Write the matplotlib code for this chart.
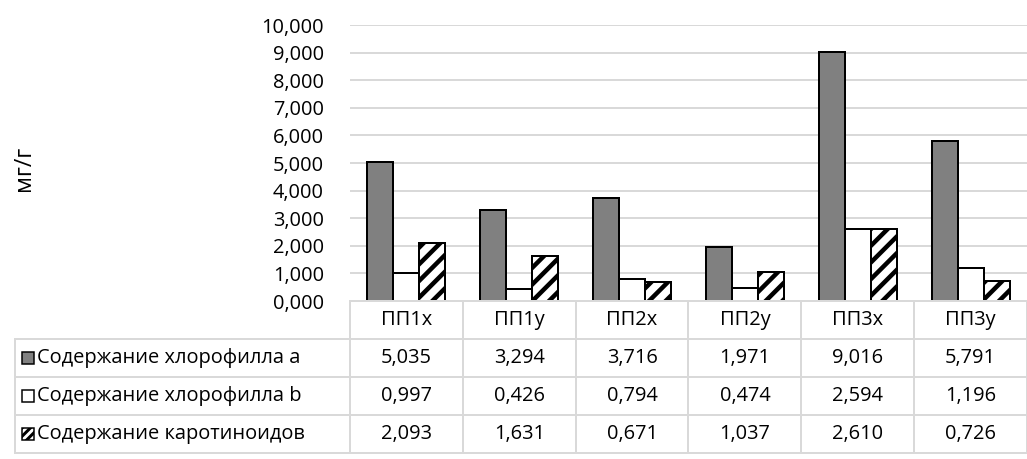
import matplotlib
matplotlib.use("Agg")
import matplotlib.pyplot as plt
from matplotlib.patches import Rectangle
import numpy as np

DPI = 100


def px(v):
    """pixel size -> points"""
    return v * 72.0 / DPI


plt.rcParams['font.family'] = ['Open Sans', 'DejaVu Sans']
plt.rcParams['hatch.linewidth'] = px(4.5)

categories = ['ПП1x', 'ПП1у', 'ПП2x', 'ПП2у', 'ПП3x', 'ПП3у']
series_names = ['Содержание хлорофилла a', 'Содержание хлорофилла b',
                'Содержание каротиноидов']
chl_a = [5.035, 3.294, 3.716, 1.971, 9.016, 5.791]
chl_b = [0.997, 0.426, 0.794, 0.474, 2.594, 1.196]
carot = [2.093, 1.631, 0.671, 1.037, 2.610, 0.726]
yticks = np.arange(0, 11, 1)

styles = [dict(facecolor='#808080', hatch=None),
          dict(facecolor='white', hatch=None),
          dict(facecolor='white', hatch='//')]

W, H = 1027, 459
FS = px(20)
grid_c = '#d9d9d9'


def fmt(v):
    return '{:.3f}'.format(v).replace('.', ',')


fig = plt.figure(figsize=(W / DPI, H / DPI), dpi=DPI)

# plot area in pixel coordinates
px_l, px_r, px_top, px_bot = 350, 1027, 25, 301
ax = fig.add_axes([px_l / W, 1 - px_bot / H, (px_r - px_l) / W, (px_bot - px_top) / H])
x = np.arange(len(categories))
bw = 0.23
for i, (vals, st) in enumerate(zip([chl_a, chl_b, carot], styles)):
    ax.bar(x + (i - 1) * bw, vals, bw, facecolor=st['facecolor'], hatch=st['hatch'],
           edgecolor='black', linewidth=px(2), zorder=3)
ax.set_xlim(-0.5, len(categories) - 0.5)
ax.set_ylim(0, 10)
ax.set_yticks(yticks)
ax.set_yticklabels([fmt(v) for v in yticks], fontsize=FS)
ax.set_xticks([])
ax.tick_params(axis='y', length=0, pad=px(26))
ax.yaxis.grid(True, color=grid_c, linewidth=px(2))
for s in ax.spines.values():
    s.set_visible(False)
ax.set_axisbelow(True)
fig.text(24 / W, 1 - 168 / H, 'мг/г', rotation=90, fontsize=px(23), ha='center', va='center')

# data table under the plot
tl, tt, tb = 15, 301, 453
tax = fig.add_axes([tl / W, 1 - tb / H, (W - tl) / W, (tb - tt) / H])
tax.set_xlim(tl, W)
tax.set_ylim(tb, tt)
tax.axis('off')
col_w = (px_r - px_l) / len(categories)
row_h = (tb - tt) / 4
lkw = dict(color=grid_c, linewidth=px(2), clip_on=False)

# horizontal lines
tax.plot([px_l, W], [tt, tt], **lkw)
for r in range(1, 5):
    tax.plot([tl, W], [tt + r * row_h] * 2, **lkw)
# vertical lines
tax.plot([tl, tl], [tt + row_h, tb], **lkw)
for c in range(len(categories) + 1):
    xc = px_l + c * col_w
    tax.plot([xc, xc], [tt, tb], **lkw)

for c, cat in enumerate(categories):
    tax.text(px_l + (c + 0.5) * col_w, tt + 0.5 * row_h, cat, ha='center', va='center', fontsize=FS)

for r, (name, vals, st) in enumerate(zip(series_names, [chl_a, chl_b, carot], styles)):
    yc = tt + (r + 1.5) * row_h
    tax.add_patch(Rectangle((22, yc - 6), 12, 12, facecolor=st['facecolor'],
                            hatch=st['hatch'] and '////', hatch_linewidth=px(3),
                            edgecolor='black', linewidth=px(1.5)))
    tax.text(37, yc, name, ha='left', va='center', fontsize=FS)
    for c, v in enumerate(vals):
        tax.text(px_l + (c + 0.5) * col_w, yc, fmt(v), ha='center', va='center', fontsize=FS)

fig.savefig('out.png', dpi=DPI)
